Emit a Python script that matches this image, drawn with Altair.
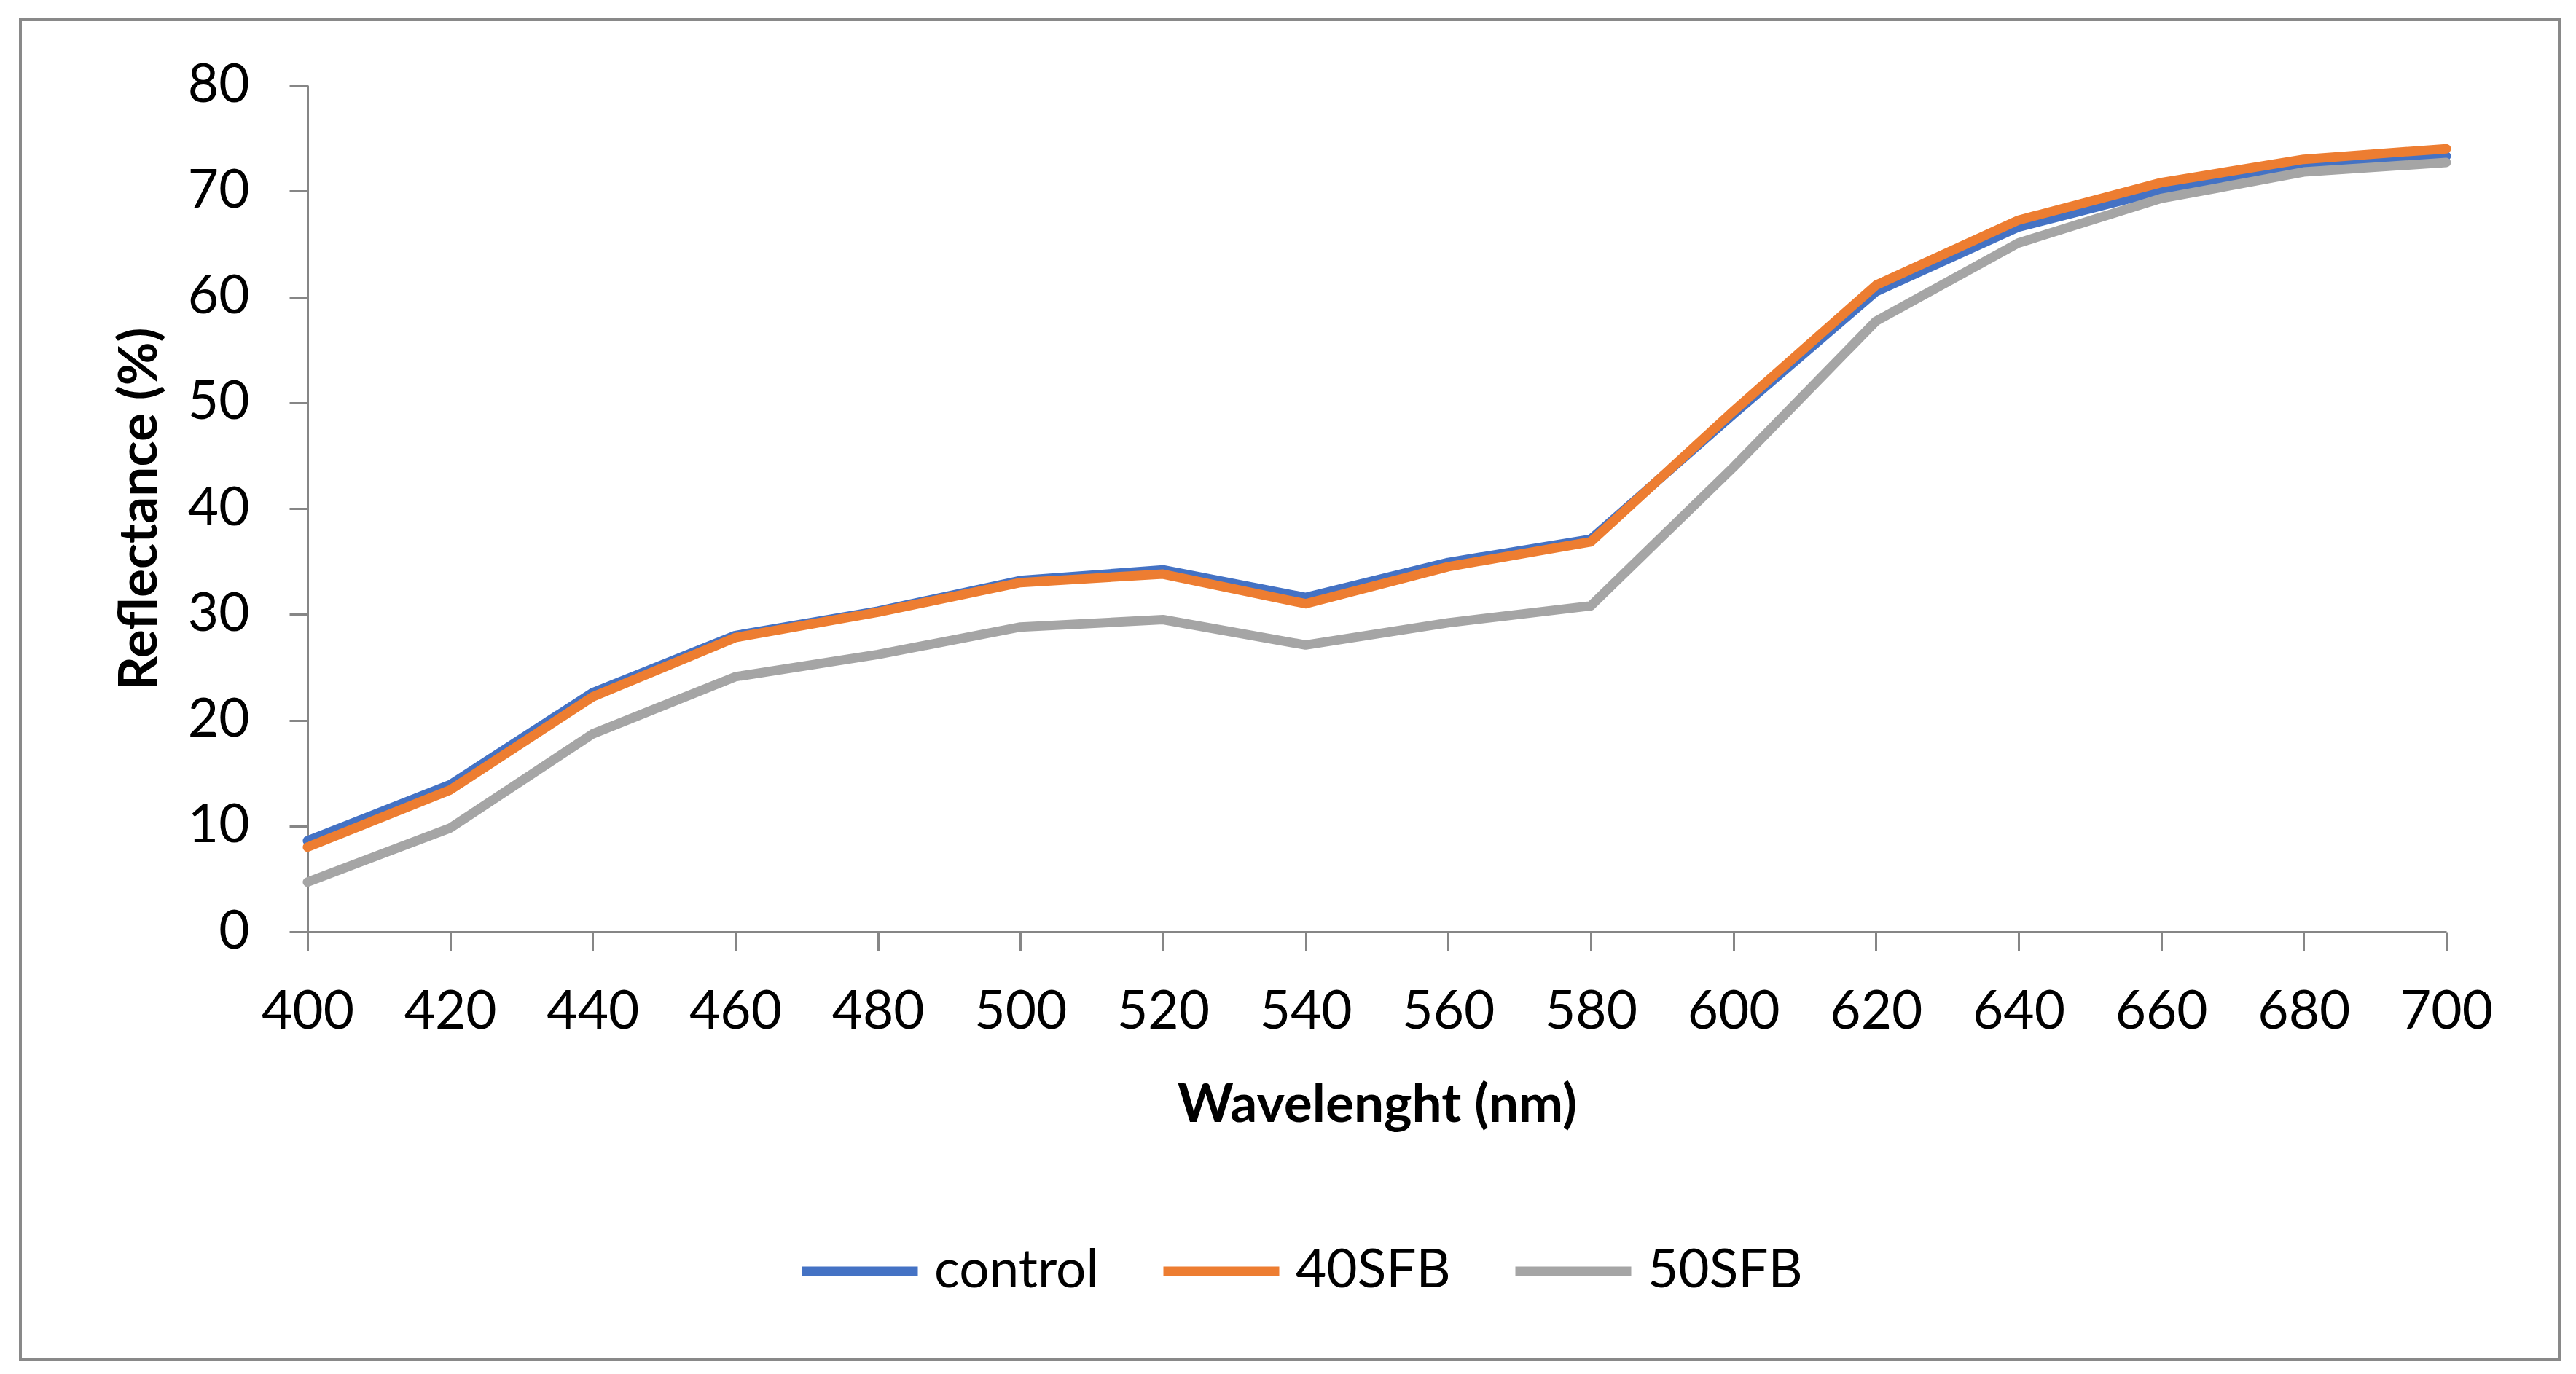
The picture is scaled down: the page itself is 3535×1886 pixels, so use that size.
import altair as alt
import pandas as pd

wavelength = [400, 420, 440, 460, 480, 500, 520, 540, 560, 580, 600, 620, 640, 660, 680, 700]
control = [8.6, 13.9, 22.6, 28.0, 30.3, 33.2, 34.2, 31.6, 34.9, 37.1, 48.9, 60.5, 66.6, 70.05, 72.4, 73.3]
sfb40 = [8.0, 13.4, 22.2, 27.8, 30.2, 33.0, 33.8, 31.0, 34.5, 36.85, 49.2, 61.1, 67.25, 70.8, 73.0, 74.0]
sfb50 = [4.7, 9.8, 18.7, 24.1, 26.2, 28.8, 29.5, 27.1, 29.2, 30.8, 43.9, 57.7, 65.1, 69.3, 71.8, 72.7]
series_names = ["control", "40SFB", "50SFB"]
series_colors = ["#4472C4", "#ED7D31", "#A5A5A5"]
x_ticks = list(range(400, 701, 20))
y_ticks = list(range(0, 81, 10))

rows = []
for name, vals in zip(series_names, [control, sfb40, sfb50]):
    for w, v in zip(wavelength, vals):
        rows.append({"wl": w, "refl": v, "series": name})
df = pd.DataFrame(rows)

W, H = 2935, 1162
FONT = "Lato"
AX = "#868686"

lines = alt.Chart(df).mark_line(strokeWidth=13, strokeCap="round", strokeJoin="round").encode(
    x=alt.X("wl:Q", scale=alt.Scale(domain=[400, 700], nice=False, zero=False),
            axis=alt.Axis(values=x_ticks, title="Wavelenght (nm)", labelFontSize=73, labelFont=FONT,
                          labelColor="black", labelPadding=48, tickSize=26, tickWidth=3, tickColor=AX,
                          domainColor=AX, domainWidth=3, grid=False, titleFont=FONT, titleFontSize=73,
                          titleFontWeight="bold", titleColor="black", titleBaseline="alphabetic",
                          titleY=260, titleX=W / 2, labelFlush=False, labelOverlap=False)),
    y=alt.Y("refl:Q", scale=alt.Scale(domain=[0, 80], nice=False),
            axis=alt.Axis(values=y_ticks, title="Reflectance (%)", labelFontSize=73, labelFont=FONT,
                          labelColor="black", labelPadding=55, tickSize=25, tickWidth=3, tickColor=AX,
                          domainColor=AX, domainWidth=3, grid=False, titleFont=FONT, titleFontSize=73,
                          titleFontWeight="bold", titleColor="black", titleBaseline="alphabetic",
                          titleX=-208, titleY=H / 2, labelFlush=False, labelOverlap=False)),
    color=alt.Color("series:N", scale=alt.Scale(domain=series_names, range=series_colors),
                    sort=series_names,
                    legend=alt.Legend(orient="none", legendX=672, legendY=1542, direction="horizontal",
                                      symbolType="stroke", symbolSize=25281, symbolStrokeWidth=13,
                                      labelFontSize=73, labelFont=FONT, labelColor="black",
                                      labelOffset=16, columnPadding=62, title=None, padding=0,
                                      labelLimit=0)),
    order=alt.Order("wl:Q"),
)

border = alt.Chart(alt.Data(values=[{"a": 1}])).mark_rect(
    filled=False, stroke="#898989", strokeWidth=4
).encode(x=alt.value(-394), x2=alt.value(3090), y=alt.value(-90), y2=alt.value(1749))

chart = alt.layer(border, lines).properties(
    width=W, height=H,
    background="white",
    autosize=alt.AutoSizeParams(type="none"),
    padding={"left": 414, "top": 109, "right": 170, "bottom": 589},
).configure_view(stroke=None)

chart.save("out.html", embed_options={"renderer": "svg", "actions": False})
